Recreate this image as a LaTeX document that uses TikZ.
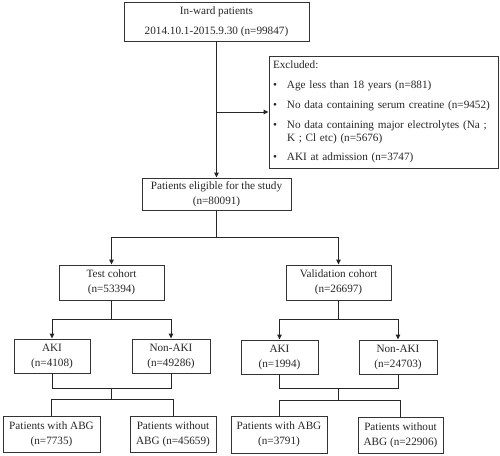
\documentclass[tikz,border=0pt]{standalone}
\usepackage{fontspec}
\setmainfont{Liberation Serif}
\usetikzlibrary{arrows.meta,calc}
\begin{document}
\begin{tikzpicture}[x=1pt,y=-1pt,
  box/.style={draw=black!80, line width=0.9pt, inner sep=0pt, align=center,
    font=\fontsize{11.2}{15}\selectfont, text=black!85},
  conn/.style={draw=black!85, line width=0.9pt},
  arr/.style={conn, -{Triangle[length=5pt,width=4.5pt]}}]
\useasboundingbox (0,0) rectangle (500,455);
\node[box, minimum width=185pt, minimum height=39pt] (top) at (216.5,21.5)
  {In-ward patients\\[5pt]2014.10.1-2015.9.30 (n=99847)};
\node[box, minimum width=229pt, minimum height=112pt, text width=221pt, align=left, inner xsep=4pt,
  font=\fontsize{11.2}{13}\selectfont] (excl) at (383.5,112)
  {Excluded:\\[7pt]
   \makebox[14pt][l]{•}Age less than 18 years (n=881)\\[7pt]
   \makebox[14pt][l]{•}No data containing serum creatine (n=9452)\\[7pt]
   \makebox[14pt][l]{•}No data containing major electrolytes (Na ;\\
   \hspace*{14pt}K ; Cl etc) (n=5676)\\[6pt]
   \makebox[14pt][l]{•}AKI at admission (n=3747)};
\node[box, minimum width=149pt, minimum height=32pt] (elig) at (216.5,194)
  {Patients eligible for the study\\(n=80091)};
\node[box, minimum width=105pt, minimum height=35pt] (test) at (111.5,282.5)
  {Test cohort\\(n=53394)};
\node[box, minimum width=105pt, minimum height=35pt] (val) at (338.5,282.5)
  {Validation cohort\\(n=26697)};
\node[box, minimum width=76pt, minimum height=34pt] (akia) at (52,356)
  {AKI\\(n=4108)};
\node[box, minimum width=78pt, minimum height=34pt] (nonakia) at (171,356)
  {Non-AKI\\(n=49286)};
\node[box, minimum width=77pt, minimum height=34pt] (akib) at (279.5,357)
  {AKI\\(n=1994)};
\node[box, minimum width=78pt, minimum height=34pt] (nonakib) at (398,357)
  {Non-AKI\\(n=24703)};
\node[box, minimum width=97pt, minimum height=36pt] (abga) at (51.5,434)
  {Patients with ABG\\(n=7735)};
\node[box, minimum width=86pt, minimum height=36pt] (noabga) at (173,434.5)
  {Patients without\\ABG (n=45659)};
\node[box, minimum width=96pt, minimum height=37pt] (abgb) at (279,434.5)
  {Patients with ABG\\(n=3791)};
\node[box, minimum width=85pt, minimum height=36pt] (noabgb) at (400.5,435)
  {Patients without\\ABG (n=22906)};
% main trunk
\draw[arr] (top.south) -- (elig.north);
\draw[arr] (top.south |- excl.west) -- (excl.west);
% split into cohorts
\coordinate (j1) at ($(elig.south)+(0,27)$);
\draw[conn] (elig.south) -- (j1);
\draw[arr] (j1) -| (test.north);
\draw[arr] (j1) -| (val.north);
% test cohort split
\coordinate (j2) at ($(test.south)+(0,19)$);
\draw[conn] (test.south) -- (j2);
\draw[arr] (j2) -| (akia.north);
\draw[arr] (j2) -| (nonakia.north);
% validation cohort split
\coordinate (j3) at ($(val.south)+(0,19)$);
\draw[conn] (val.south) -- (j3);
\draw[arr] (j3) -| (akib.north);
\draw[arr] (j3) -| (nonakib.north);
% merge and split left
\coordinate (m1) at ($(test.south)+(0,88)$);
\coordinate (m2) at ($(test.south)+(0,99)$);
\draw[conn] (akia.south) |- (m1) -| (nonakia.south);
\draw[conn] (m1) -- (m2);
\draw[conn] (m2) -| (abga.north);
\draw[conn] (m2) -| (noabga.north);
% merge and split right
\coordinate (m3) at ($(val.south)+(0,88)$);
\coordinate (m4) at ($(val.south)+(0,100)$);
\draw[conn] (akib.south) |- (m3) -| (nonakib.south);
\draw[conn] (m3) -- (m4);
\draw[conn] (m4) -| (abgb.north);
\draw[conn] (m4) -| (noabgb.north);
\end{tikzpicture}
\end{document}
